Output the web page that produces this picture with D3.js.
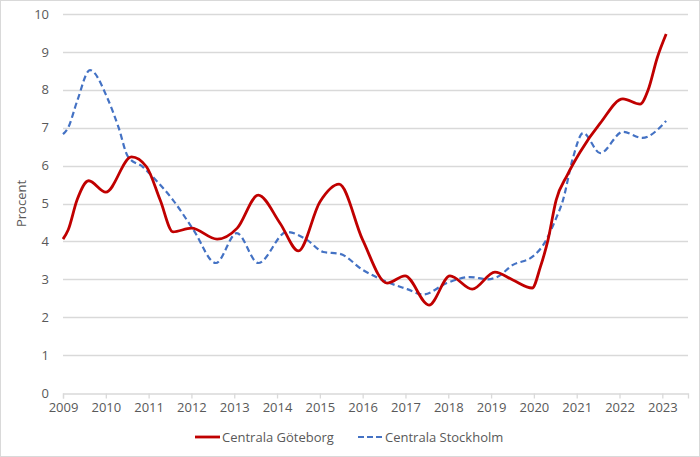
<!DOCTYPE html>
<html>
<head>
<meta charset="utf-8">
<script src="https://cdn.jsdelivr.net/npm/d3@7"></script>
<style>
  body { margin: 0; background: #fff; }
  svg { display: block; font-family: "Open Sans", sans-serif; }
</style>
</head>
<body>
<svg width="700" height="457"></svg>
<script>
// Series (decimal year, percent)
const gbgYears = [2009.0, 2009.12, 2009.33, 2009.6, 2010.0, 2010.6, 2010.95, 2011.27, 2011.57, 2012.0,
    2012.6, 2013.07, 2013.56, 2014.07, 2014.5, 2015.0, 2015.45, 2016.0, 2016.57, 2016.99,
    2017.55, 2018.04, 2018.56, 2019.09, 2019.51, 2019.96, 2020.15, 2020.33, 2020.52, 2020.78,
    2021.08, 2021.55, 2022.08, 2022.48, 2022.67, 2022.88, 2023.09];
const gbgValues = [4.06, 4.3, 5.1, 5.6, 5.3, 6.23, 5.97, 5.09, 4.25, 4.35,
    4.06, 4.35, 5.22, 4.48, 3.75, 5.04, 5.51, 4.04, 2.9, 3.09,
    2.32, 3.09, 2.74, 3.19, 2.98, 2.77, 3.32, 4.04, 5.09, 5.75,
    6.36, 7.12, 7.76, 7.62, 8.0, 8.84, 9.47];

const sthlmYears = [2009.0, 2009.12, 2009.33, 2009.63, 2010.03, 2010.3, 2010.52, 2010.87, 2011.1, 2011.57,
    2012.05, 2012.57, 2013.06, 2013.56, 2014.23, 2014.7, 2015.08, 2015.47, 2016.0, 2016.57,
    2017.04, 2017.41, 2017.97, 2018.5, 2018.93, 2019.14, 2019.51, 2019.96, 2020.26, 2020.5,
    2020.68, 2020.9, 2021.15, 2021.55, 2022.08, 2022.53, 2023.09];
const sthlmValues = [6.83, 7.0, 7.7, 8.52, 7.8, 7.0, 6.23, 5.96, 5.7, 5.09,
    4.3, 3.43, 4.22, 3.43, 4.25, 4.04, 3.72, 3.67, 3.25, 2.93,
    2.74, 2.6, 2.9, 3.06, 3.0, 3.06, 3.38, 3.59, 3.98, 4.56,
    5.09, 6.15, 6.86, 6.33, 6.89, 6.73, 7.18];

const xTicks = d3.range(2009, 2024);
const yTicks = d3.range(0, 11);
const seriesNames = ["Centrala Göteborg", "Centrala Stockholm"];

const svg = d3.select("svg");
const textColor = "#595959";
const gridColor = "#d9d9d9";

// outer frame
svg.append("rect")
    .attr("x", 0.5).attr("y", 0.5)
    .attr("width", 699).attr("height", 456)
    .attr("fill", "none")
    .attr("stroke", gridColor);

const x = d3.scaleLinear().domain([2009, 2023.6]).range([63, 688]);
const y = d3.scaleLinear().domain([0, 10]).range([393, 14]);

// horizontal gridlines
svg.append("g")
    .selectAll("line")
    .data(yTicks.filter(d => d > 0))
    .join("line")
    .attr("x1", x.range()[0]).attr("x2", x.range()[1])
    .attr("y1", d => Math.round(y(d)) + 0.5)
    .attr("y2", d => Math.round(y(d)) + 0.5)
    .attr("stroke", gridColor)
    .attr("stroke-width", 1.3);

// y axis labels
const yAxis = svg.append("g")
    .attr("transform", `translate(${x.range()[0]},0)`)
    .call(d3.axisLeft(y).tickValues(yTicks).tickSize(0).tickPadding(14));
yAxis.select(".domain").remove();
yAxis.selectAll("text")
    .attr("fill", textColor)
    .style("font-size", "13px")
    .style("font-family", "Open Sans, sans-serif");

// x axis
const xAxis = svg.append("g")
    .attr("transform", `translate(0,${Math.round(y(0)) + 0.5})`)
    .call(d3.axisBottom(x).tickValues(xTicks).tickFormat(d3.format("d")).tickSize(5).tickPadding(4));
xAxis.select(".domain").attr("stroke", gridColor).attr("stroke-width", 1.3);
xAxis.selectAll(".tick line").attr("stroke", gridColor).attr("stroke-width", 1.3);
xAxis.selectAll("text")
    .attr("fill", textColor)
    .style("font-size", "13px")
    .style("font-family", "Open Sans, sans-serif");

// y axis title
svg.append("text")
    .attr("transform", `translate(26,${y(5)}) rotate(-90)`)
    .attr("text-anchor", "middle")
    .attr("fill", textColor)
    .style("font-size", "13px")
    .text("Procent");

const line = d3.line()
    .x(d => x(d[0]))
    .y(d => y(d[1]))
    .curve(d3.curveMonotoneX);

// Stockholm (dashed blue)
svg.append("path")
    .datum(d3.zip(sthlmYears, sthlmValues))
    .attr("d", line)
    .attr("fill", "none")
    .attr("stroke", "#4472c4")
    .attr("stroke-width", 2.2)
    .attr("stroke-dasharray", "6,3.5");

// Göteborg (solid red)
svg.append("path")
    .datum(d3.zip(gbgYears, gbgValues))
    .attr("d", line)
    .attr("fill", "none")
    .attr("stroke", "#c00000")
    .attr("stroke-width", 2.8)
    .attr("stroke-linejoin", "round");

// legend
const legend = svg.append("g").attr("transform", "translate(0,437)");
const legendItems = [
    { name: seriesNames[0], x: 195, color: "#c00000", dash: null, w: 2.8 },
    { name: seriesNames[1], x: 358, color: "#4472c4", dash: "6,3", w: 2.2 }
];
legendItems.forEach(it => {
    legend.append("line")
        .attr("x1", it.x).attr("x2", it.x + 25)
        .attr("y1", 0).attr("y2", 0)
        .attr("stroke", it.color)
        .attr("stroke-width", it.w)
        .attr("stroke-dasharray", it.dash);
    legend.append("text")
        .attr("x", it.x + 27)
        .attr("y", 4.5)
        .attr("fill", textColor)
        .style("font-size", "13px")
        .text(it.name);
});
</script>
</body>
</html>
